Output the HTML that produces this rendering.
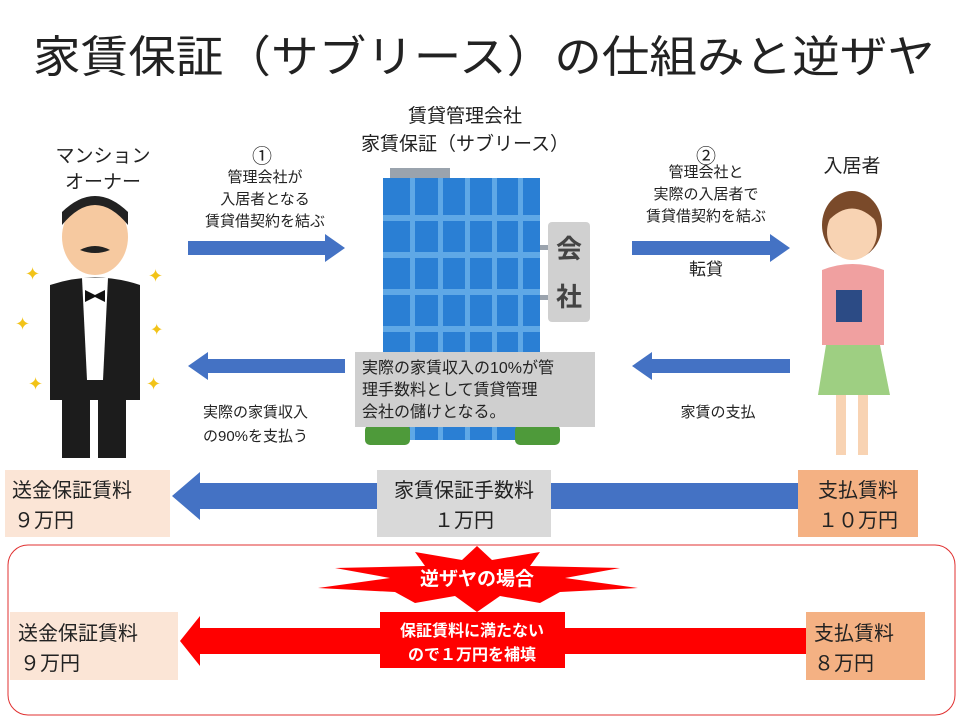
<!DOCTYPE html>
<html><head><meta charset="utf-8"><style>
body{margin:0;width:960px;height:720px;background:#fff;overflow:hidden;font-family:"Liberation Sans","Noto Sans CJK JP",sans-serif}
svg text{font-family:"Liberation Sans","Noto Sans CJK JP",sans-serif}
</style></head><body>
<svg width="960" height="720" viewBox="0 0 960 720">
<text x="33" y="72" font-size="44" textLength="902" lengthAdjust="spacingAndGlyphs" fill="#222">家賃保証（サブリース）の仕組みと逆ザヤ</text>

<text x="465" y="122" font-size="19" text-anchor="middle" fill="#222">賃貸管理会社</text>
<text x="465" y="150" font-size="19" text-anchor="middle" fill="#222">家賃保証（サブリース）</text>
<text x="103" y="162" font-size="19" text-anchor="middle" fill="#222">マンション</text>
<text x="103" y="188" font-size="19" text-anchor="middle" fill="#222">オーナー</text>
<text x="852" y="172" font-size="19" text-anchor="middle" fill="#222">入居者</text>

<text x="262" y="163" font-size="20" text-anchor="middle" fill="#222">①</text>
<g font-size="15" text-anchor="middle" fill="#222">
<text x="265" y="182">管理会社が</text><text x="265" y="204">入居者となる</text><text x="265" y="226">賃貸借契約を結ぶ</text>
<text x="706" y="163" font-size="20">②</text>
<text x="706" y="177">管理会社と</text><text x="706" y="199">実際の入居者で</text><text x="706" y="221">賃貸借契約を結ぶ</text>
<text x="706" y="275" font-size="17">転貸</text>
<text x="718" y="417">家賃の支払</text>
</g>
<g font-size="15" fill="#222"><text x="203" y="417">実際の家賃収入</text><text x="203" y="441">の90%を支払う</text></g>

<g fill="#4472C4">
<polygon points="188,241 325,241 325,234 345,248 325,262 325,255 188,255"/>
<polygon points="632,241 770,241 770,234 790,248 770,262 770,255 632,255"/>
<polygon points="345,359 208,359 208,352 188,366 208,380 208,373 345,373"/>
<polygon points="790,359 652,359 652,352 632,366 652,380 652,373 790,373"/>
<polygon points="800,483 200,483 200,472 172,496 200,520 200,509 800,509"/>
</g>

<rect x="390" y="168" width="60" height="12" fill="#9aa3ad"/>
<rect x="383" y="178" width="157" height="262" fill="#2a7fd4"/>
<g fill="#5fa8e6">
<rect x="383" y="215" width="157" height="6"/><rect x="383" y="252" width="157" height="6"/>
<rect x="383" y="289" width="157" height="6"/><rect x="383" y="326" width="157" height="6"/>
<rect x="410" y="178" width="5" height="262"/><rect x="438" y="178" width="5" height="262"/>
<rect x="465" y="178" width="5" height="262"/><rect x="492" y="178" width="5" height="262"/><rect x="518" y="178" width="5" height="262"/>
</g>
<rect x="540" y="245" width="10" height="5" fill="#9aa3ad"/><rect x="540" y="295" width="10" height="5" fill="#9aa3ad"/>
<rect x="548" y="222" width="42" height="100" rx="4" fill="#d0d0d0"/>
<text x="569" y="258" font-size="26" font-weight="bold" text-anchor="middle" fill="#444">会</text>
<text x="569" y="306" font-size="26" font-weight="bold" text-anchor="middle" fill="#444">社</text>
<rect x="365" y="425" width="45" height="20" rx="5" fill="#4e9a3a"/><rect x="515" y="425" width="45" height="20" rx="5" fill="#4e9a3a"/>
<rect x="355" y="352" width="240" height="75" fill="#cfcfcf"/>
<g font-size="16" fill="#222"><text x="362" y="373">実際の家賃収入の10%が管</text><text x="362" y="395">理手数料として賃貸管理</text><text x="362" y="417">会社の儲けとなる。</text></g>

<g>
<ellipse cx="95" cy="237" rx="33" ry="38" fill="#f6c9a0"/>
<path d="M62,225 Q95,185 128,225 L128,212 Q95,180 62,212Z" fill="#222"/>
<path d="M80,250 Q95,242 110,250 Q95,256 80,250Z" fill="#222"/>
<path d="M50,285 Q95,270 140,285 L140,400 L50,400Z" fill="#1c1c1c"/>
<polygon points="82,278 108,278 103,380 87,380" fill="#fff"/>
<path d="M85,290 L95,295 L105,290 L105,302 L95,297 L85,302Z" fill="#111"/>
<rect x="62" y="400" width="28" height="58" fill="#1c1c1c"/><rect x="98" y="400" width="28" height="58" fill="#1c1c1c"/>
<g fill="#f2c318"><text x="25" y="280" font-size="18">✦</text><text x="15" y="330" font-size="18">✦</text><text x="28" y="390" font-size="18">✦</text><text x="148" y="282" font-size="18">✦</text><text x="150" y="335" font-size="16">✦</text><text x="146" y="390" font-size="18">✦</text></g>
</g>

<g>
<ellipse cx="852" cy="225" rx="30" ry="34" fill="#7a4a2a"/>
<ellipse cx="852" cy="232" rx="25" ry="28" fill="#f8d3b3"/>
<path d="M827,222 Q852,195 877,222 L877,208 Q852,190 827,208Z" fill="#7a4a2a"/>
<path d="M822,270 Q852,258 884,270 L884,345 L822,345Z" fill="#f0a0a0"/>
<path d="M826,345 L880,345 L890,395 L818,395Z" fill="#9ecf82"/>
<rect x="836" y="290" width="26" height="32" fill="#2c4b85"/>
<rect x="836" y="395" width="10" height="60" fill="#f8d3b3"/><rect x="858" y="395" width="10" height="60" fill="#f8d3b3"/>
</g>

<rect x="5" y="470" width="165" height="67" fill="#FBE5D6"/>
<text x="12" y="497" font-size="20" fill="#222">送金保証賃料</text><text x="14" y="527" font-size="20" fill="#222">９万円</text>
<rect x="377" y="470" width="174" height="67" fill="#D9D9D9"/>
<text x="464" y="497" font-size="20" text-anchor="middle" fill="#222">家賃保証手数料</text><text x="464" y="527" font-size="20" text-anchor="middle" fill="#222">１万円</text>
<rect x="798" y="470" width="120" height="67" fill="#F4B183"/>
<text x="858" y="497" font-size="20" text-anchor="middle" fill="#222">支払賃料</text><text x="858" y="527" font-size="20" text-anchor="middle" fill="#222">１０万円</text>

<rect x="8" y="545" width="947" height="170" rx="20" fill="none" stroke="#e03030" stroke-width="1"/>
<polygon points="477,546 492,560 540,552 530,566 620,568 565,578 638,588 560,592 540,603 500,596 477,612 455,596 415,603 395,592 318,588 390,578 335,568 425,566 415,552 462,560" fill="#ff0000"/>
<text x="477" y="585" font-size="19" font-weight="bold" text-anchor="middle" fill="#fff">逆ザヤの場合</text>
<polygon points="810,628 200,628 200,616 180,641 200,666 200,654 810,654" fill="#ff0000"/>
<rect x="380" y="612" width="185" height="56" fill="#ff0000"/>
<text x="472" y="636" font-size="16" font-weight="bold" text-anchor="middle" fill="#fff">保証賃料に満たない</text>
<text x="472" y="660" font-size="16" font-weight="bold" text-anchor="middle" fill="#fff">ので１万円を補填</text>
<rect x="10" y="612" width="168" height="68" fill="#FBE5D6"/>
<text x="18" y="640" font-size="20" fill="#222">送金保証賃料</text><text x="20" y="670" font-size="20" fill="#222">９万円</text>
<rect x="806" y="612" width="119" height="68" fill="#F4B183"/>
<text x="814" y="640" font-size="20" fill="#222">支払賃料</text><text x="814" y="670" font-size="20" fill="#222">８万円</text>
</svg>
</body></html>
